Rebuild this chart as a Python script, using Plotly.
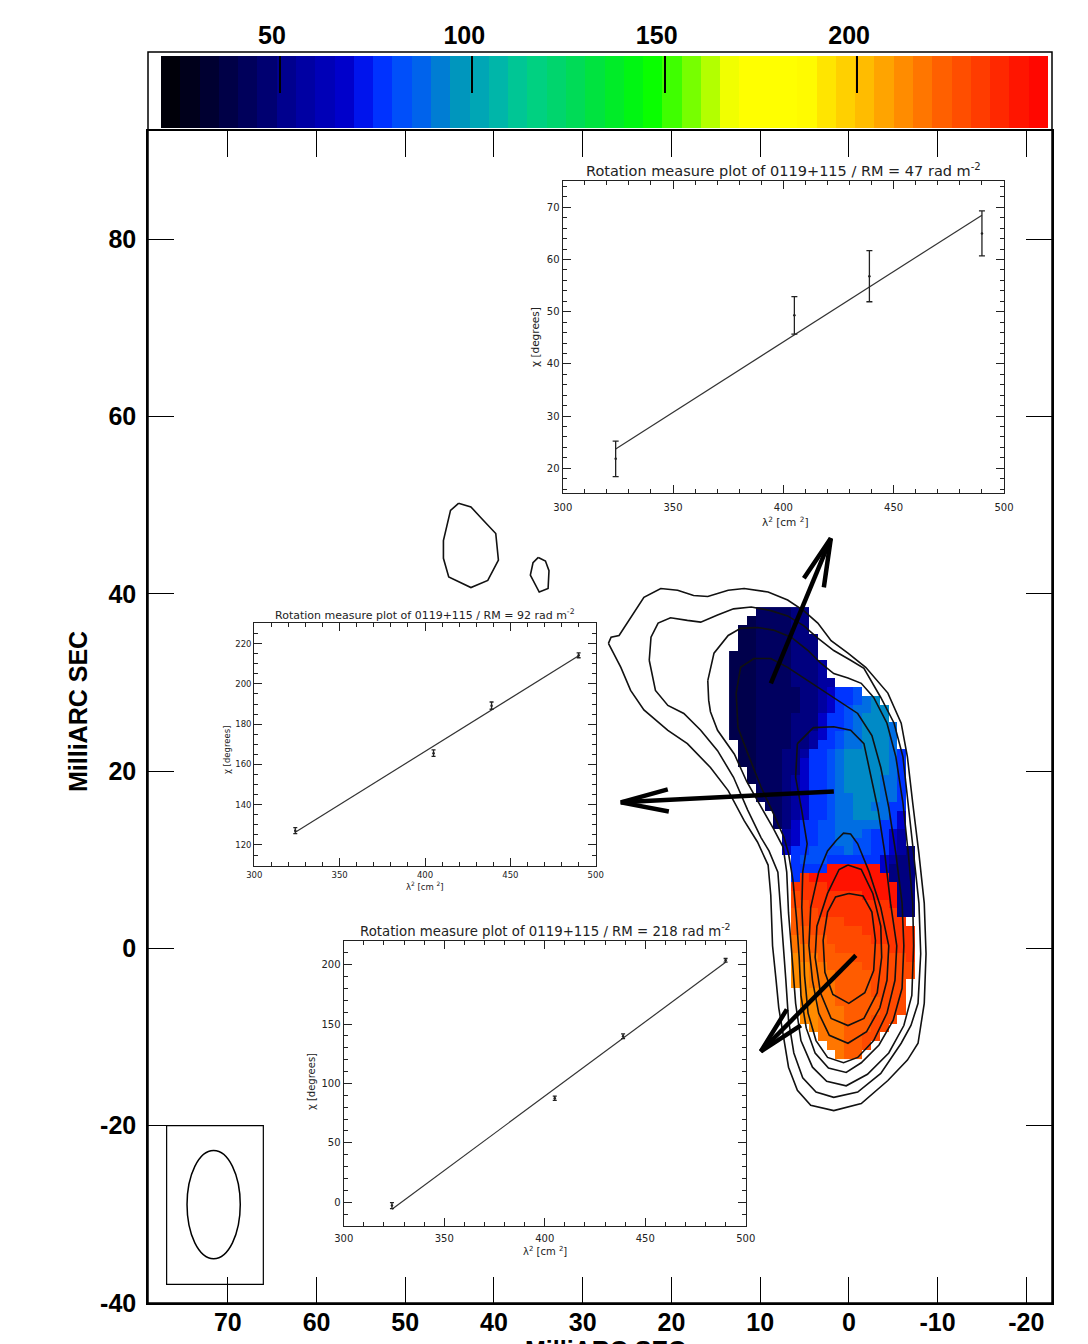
import numpy as np
import plotly.graph_objects as go

FIG_W, FIG_H = 1088, 1344
PAGE_OFFSET = 8  # the html page body margin shifts the figure by this many pixels


def pxx(p):
    return (p - PAGE_OFFSET) / FIG_W


def pxy(p):
    return 1 - (p - PAGE_OFFSET) / FIG_H


# ======================= DATA =======================
# main map (milliarcsec)
MAP_X_RANGE = [79.0, -22.9]
MAP_Y_RANGE = [-40.0, 92.2]
map_xticks = [70, 60, 50, 40, 30, 20, 10, 0, -10, -20]
map_xlabels = ["70", "60", "50", "40", "30", "20", "10", "0", "-10", "-20"]
map_yticks = [80, 60, 40, 20, 0, -20, -40]
map_ylabels = ["80", "60", "40", "20", "0", "-20", "-40"]

# rotation-measure colour scale (rad m^-2)
RM_MIN, RM_MAX = 19.1, 249.6
colorbar_ticks = [50, 100, 150, 200]
rm_colour_stops = [
    (19.1, "#000000"), (26, "#000018"), (35, "#000040"), (45, "#000068"),
    (52, "#000090"), (60, "#0000b0"), (68, "#0000d0"), (74, "#0020ff"),
    (80, "#0048ff"), (88, "#0068e8"), (95, "#0090c0"), (105, "#00b0b0"),
    (115, "#00d088"), (125, "#00d860"), (135, "#00e830"), (146, "#00ff00"),
    (155, "#60ff00"), (163, "#c0ff00"), (168, "#ffff00"), (186, "#ffff00"),
    (195, "#ffd800"), (203, "#ffb800"), (212, "#ff8c00"), (222, "#ff6000"),
    (232, "#ff3c00"), (241, "#ff1800"), (249.6, "#ff0000"),
]

# RM pixel map: one character per 1-mas pixel, '.' = blank
rm_code_values = {
    "K": 38, "N": 43, "n": 49, "m": 56, "b": 66, "B": 77, "C": 82, "c": 89,
    "t": 94, "R": 243, "r": 234, "o": 228, "O": 223, "a": 217, "A": 212,
}
rm_x = [13, 12, 11, 10, 9, 8, 7, 6, 5, 4, 3, 2, 1, 0, -1, -2, -3, -4, -5, -6, -7, -8]
rm_y = [38, 37, 36, 35, 34, 33, 32, 31, 30, 29, 28, 27, 26, 25, 24, 23, 22, 21,
        20, 19, 18, 17, 16, 15, 14, 13, 12, 11, 10, 9, 8, 7, 6, 5, 4, 3, 2, 1, 0,
        -1, -2, -3, -4, -5, -6, -7, -8, -9, -10, -11, -12]
rm_rows = [
    "...NNNNnn.............",
    "..KNNNNnn.............",
    ".KKNNNNnn.............",
    ".KKNNNNnnn............",
    ".KKNNNNnnn............",
    "KKKNNNNnnn............",
    "KKKNNNNnnnm...........",
    "KKKNNNNnnnm...........",
    "KKKNNNNnnnmm..........",
    "KKKNNNNNnnmbBBC.......",
    "KKKNNNNNnnmbBBCct.....",
    "KKKNNNNNnnmbBCcctt....",
    "KKKNNNNnnnbBBCcttt....",
    "KKKNNNNnnnbBBCctttc...",
    "KKKNNNNnnmbBCcctttc...",
    ".KKNNNNnnmBBCcctttc...",
    ".KKNNNnnmBBCctttttcB..",
    ".KKNNNnnbBBCctttttcB..",
    "..KNNNnnbBBCctttttcB..",
    "..KNNNnmbBBCcttttccB..",
    "...NNNnmbBBCcttttccB..",
    "...NNNnmbBBCcctttccB..",
    "....NNnmbBBCccttccBB..",
    ".....NnmbBBCcctttcBb..",
    ".....NnbBBCCcccccBBb..",
    "......mbBBCCcccCBBbm..",
    "......mbBBCCccCCBBbm..",
    "......bBBCCCCcCCBBbmn.",
    ".......BCCCBBBBBBbmnn.",
    ".......BBBBRRRRRRbnnn.",
    ".......BrRRRRRRRRRnnn.",
    ".......rrrrRRRRRRRRnn.",
    ".......orrrrrrrRRRRnn.",
    ".......oorrrrrrrrrRnn.",
    ".......Ooorrrrrrrrrnn.",
    ".......Oooooorrrrrrr..",
    ".......OOoooooorrrrrr.",
    ".......aOOOooooorrrrr.",
    ".......aaOOOoooooorrr.",
    ".......AaaOOOOoooooor.",
    ".......AAaaOOOOoooooo.",
    ".......AAaaaOOOOooooo.",
    ".......AAaaaOOOOoooo..",
    "........AAaaOOOOoooo..",
    "........AAaaOOOOOooo..",
    "........AAaaaOOOOooo..",
    "........AAaaaOOOooo...",
    ".........AaaaOOOoo....",
    "..........aaaOOoo.....",
    "...........aaOOo......",
    "............aOO.......",
]

# total-intensity contours (mas)
contour_1 = [(27.1, 34.4), (26.8, 35.1), (25.9, 35.3), (24.6, 37.3), (23.1, 39.6), (21.2, 40.6),
             (19.3, 40.4), (17.5, 39.8), (15.9, 39.7), (13.6, 40.4), (11.8, 40.6), (9.1, 40.2),
             (6.9, 39.3), (5.1, 38.1), (3.5, 36.7), (2.0, 34.7), (0.1, 33.3), (-1.9, 31.7),
             (-4.4, 28.8), (-5.9, 25.4), (-6.6, 21.6), (-7.2, 16.4), (-7.9, 10.7), (-8.5, 5.1),
             (-8.7, -0.6), (-8.5, -6.2), (-7.8, -10.7), (-6.6, -12.6), (-4.4, -14.9), (-1.4, -17.5),
             (1.7, -18.3), (4.3, -17.7), (5.8, -16.0), (6.8, -13.4), (7.3, -10.4), (7.9, -6.7),
             (8.2, -3.6), (8.6, 0.3), (8.8, 6.0), (9.1, 9.4), (10.3, 12.0), (11.8, 14.4),
             (13.6, 17.8), (15.6, 20.4), (18.2, 23.1), (20.4, 24.6), (23.1, 26.9), (24.6, 29.1),
             (25.7, 31.7), (27.1, 34.4)]
contour_2 = [(22.5, 32.5), (22.3, 35.1), (21.5, 36.7), (20.1, 37.3), (18.2, 37.0), (16.7, 36.8),
             (14.8, 37.6), (13.0, 38.3), (11.0, 38.5), (8.8, 38.1), (6.9, 37.5), (5.1, 36.4),
             (3.5, 35.0), (1.7, 33.6), (-0.2, 32.5), (-1.7, 31.6), (-3.6, 28.3), (-5.1, 25.4),
             (-6.1, 21.6), (-6.7, 16.4), (-7.3, 10.7), (-7.9, 5.1), (-8.1, -0.6), (-7.8, -6.2),
             (-7.0, -8.7), (-5.9, -10.7), (-3.6, -14.1), (-1.0, -16.2), (1.7, -16.8), (3.7, -16.2),
             (5.2, -14.6), (6.2, -11.8), (6.8, -8.1), (7.1, -3.6), (7.4, 0.3), (7.7, 4.1),
             (8.0, 8.6), (9.0, 11.0), (9.9, 12.5), (11.4, 15.6), (13.0, 19.3), (14.8, 22.3),
             (16.7, 24.6), (18.6, 26.5), (20.4, 27.4), (21.8, 29.1), (22.5, 32.5)]
contour_3 = [(15.9, 30.2), (15.2, 33.3), (13.6, 35.3), (12.2, 36.1), (10.3, 36.2), (8.5, 35.9),
             (6.5, 35.1), (4.6, 33.6), (3.2, 32.2), (1.7, 31.0), (0.1, 30.5), (-1.4, 29.9),
             (-2.8, 28.3), (-4.3, 25.4), (-5.3, 21.6), (-6.1, 16.4), (-6.7, 10.7), (-7.2, 5.1),
             (-7.3, 0.3), (-7.1, -5.3), (-6.2, -8.7), (-4.5, -11.8), (-2.1, -14.2), (0.3, -15.5),
             (2.5, -15.0), (4.1, -13.4), (5.4, -10.4), (6.0, -6.2), (6.4, -1.0), (6.8, 4.0),
             (7.0, 8.6), (7.4, 11.4), (8.5, 13.5), (9.9, 15.9), (11.5, 18.8), (12.9, 21.9),
             (14.8, 24.6), (15.6, 26.7), (15.8, 28.0), (15.9, 30.2)]
contour_4 = [(12.7, 28.8), (12.2, 31.7), (10.7, 32.7), (8.8, 32.7), (6.9, 31.7), (4.6, 30.2),
             (2.4, 28.8), (0.9, 27.8), (-1.0, 26.5), (-2.6, 24.0), (-3.6, 20.4), (-4.5, 15.9),
             (-5.3, 10.7), (-6.0, 5.1), (-6.2, 0.3), (-6.0, -4.5), (-5.0, -8.1), (-3.4, -10.9),
             (-1.4, -12.9), (0.3, -14.0), (2.3, -13.5), (3.8, -11.8), (4.8, -9.0), (5.4, -5.3),
             (5.6, -1.0), (5.9, 3.4), (6.3, 7.7), (6.8, 10.7), (7.3, 12.5), (8.5, 15.2),
             (9.9, 18.2), (11.4, 22.0), (12.5, 24.9), (12.7, 28.8)]
contour_5 = [(5.8, 23.1), (4.0, 24.9), (1.7, 25.0), (-0.2, 24.6), (-1.7, 23.1), (-2.5, 19.3),
             (-3.3, 15.6), (-4.0, 11.1), (-4.7, 5.1), (-5.4, 0.3), (-5.2, -3.6), (-4.3, -7.3),
             (-2.8, -10.4), (-1.0, -12.3), (0.6, -12.9), (2.4, -12.3), (3.7, -10.4), (4.6, -7.3),
             (5.0, -3.0), (5.1, 0.3), (5.3, 4.6), (5.2, 8.6), (4.7, 11.8), (5.3, 15.5),
             (6.0, 19.3), (5.8, 23.1)]
contour_6 = [(1.4, 12.2), (0.6, 13.0), (-0.2, 12.9), (-1.0, 11.8), (-2.3, 8.6), (-3.6, 4.6),
             (-4.5, 0.3), (-4.3, -3.6), (-3.5, -6.7), (-2.0, -9.4), (0.1, -10.7), (2.2, -9.8),
             (3.4, -7.3), (4.1, -3.6), (4.5, 0.3), (4.3, 4.6), (3.4, 8.6), (2.4, 11.0), (1.4, 12.2)]
contour_7 = [(0.1, 9.4), (-1.4, 8.9), (-2.7, 6.2), (-3.6, 2.5), (-3.7, -1.0), (-3.2, -5.0),
             (-1.7, -7.9), (0.1, -8.7), (2.0, -7.9), (3.2, -5.0), (3.8, -1.0), (3.6, 2.5),
             (2.4, 6.2), (1.1, 8.9), (0.1, 9.4)]
contour_8 = [(0.0, 6.2), (-1.6, 5.9), (-2.6, 4.1), (-3.0, 0.9), (-2.8, -2.5), (-1.8, -5.0),
             (0.0, -6.2), (1.8, -5.2), (2.7, -2.7), (2.9, 0.9), (2.4, 4.1), (1.5, 5.8), (0.0, 6.2)]
island_1 = [(44.0, 50.2), (42.6, 49.8), (41.5, 48.6), (39.8, 46.8), (39.5, 43.8), (40.7, 41.5),
            (42.6, 40.7), (45.1, 41.9), (45.7, 44.0), (45.7, 46.0), (44.9, 49.4), (44.0, 50.2)]
island_2 = [(35.0, 44.1), (34.2, 43.7), (33.8, 42.6), (33.9, 40.6), (34.9, 40.2), (35.9, 42.1),
            (35.6, 43.5), (35.0, 44.1)]
contours = [contour_1, contour_2, contour_3, contour_4, contour_5, contour_6, contour_7,
            contour_8, island_1, island_2]

# EVPA arrows: tail, head, barb 1, barb 2 (mas)
evpa_arrows = [
    [(8.79, 29.89), (2.03, 46.25), (5.07, 41.74), (2.82, 40.72)],
    [(1.69, 17.71), (25.70, 16.47), (20.41, 17.94), (20.29, 15.45)],
    [(-0.79, -0.79), (9.92, -11.62), (6.99, -6.88), (5.41, -8.69)],
]

# restoring beam
beam = dict(x=71.6, y=-28.9, half_x=3.0, half_y=6.1)
beam_box = dict(x0=76.9, x1=66.0, y0=-37.9, y1=-20.0)

# RM fits (lambda^2 in cm^2, chi in degrees)
lambda2 = [324, 405, 439, 490]
chi_47 = [21.8, 49.3, 56.8, 65.0]
err_47 = [3.4, 3.6, 4.9, 4.3]
fit_47_x = [324, 490]
fit_47_y = [23.7, 68.5]
chi_92 = [127.1, 165.6, 189.2, 214.2]
err_92 = [1.5, 1.6, 1.8, 1.2]
fit_92_x = [324, 490]
fit_92_y = [126.3, 214.0]
chi_218 = [-2.8, 87.5, 139.7, 203.7]
err_218 = [2.5, 1.8, 2.0, 1.5]
fit_218_x = [324, 490]
fit_218_y = [-5.9, 202.0]

# ======================= FIGURE =======================
colorscale = [[(v - RM_MIN) / (RM_MAX - RM_MIN), c] for v, c in rm_colour_stops]
rm_z = [[rm_code_values.get(ch) for ch in row.ljust(len(rm_x), ".")[:len(rm_x)]] for row in rm_rows]

fig = go.Figure()

# RM pixel map
fig.add_trace(go.Heatmap(x=rm_x, y=rm_y, z=rm_z, colorscale=colorscale, zmin=RM_MIN, zmax=RM_MAX,
                         showscale=False, hoverinfo="skip", xaxis="x", yaxis="y"))

# contours
for c in contours:
    fig.add_trace(go.Scatter(x=[p[0] for p in c], y=[p[1] for p in c], mode="lines",
                             line=dict(color="#111111", width=1.6), hoverinfo="skip",
                             xaxis="x", yaxis="y"))

# EVPA arrows
for tail, head, b1, b2 in evpa_arrows:
    fig.add_trace(go.Scatter(x=[tail[0], head[0], None, b1[0], head[0], b2[0]],
                             y=[tail[1], head[1], None, b1[1], head[1], b2[1]],
                             mode="lines", line=dict(color="black", width=4.5),
                             hoverinfo="skip", xaxis="x", yaxis="y"))

# colour bar (drawn as a strip of the colour scale)
n_bands = 46
band_edges = np.linspace(RM_MIN, RM_MAX, n_bands + 1)
band_centres = 0.5 * (band_edges[:-1] + band_edges[1:])
fig.add_trace(go.Heatmap(x=band_centres, y=[0], z=[band_centres], colorscale=colorscale,
                         zmin=RM_MIN, zmax=RM_MAX, showscale=False, hoverinfo="skip",
                         xaxis="x5", yaxis="y5"))

# insets
insets = [
    dict(ax="2", chi=chi_47, err=err_47, fx=fit_47_x, fy=fit_47_y, cap=3),
    dict(ax="3", chi=chi_92, err=err_92, fx=fit_92_x, fy=fit_92_y, cap=2),
    dict(ax="4", chi=chi_218, err=err_218, fx=fit_218_x, fy=fit_218_y, cap=2),
]
for ins in insets:
    fig.add_trace(go.Scatter(x=ins["fx"], y=ins["fy"], mode="lines",
                             line=dict(color="#333333", width=1.2), hoverinfo="skip",
                             xaxis="x" + ins["ax"], yaxis="y" + ins["ax"]))
    fig.add_trace(go.Scatter(x=lambda2, y=ins["chi"], mode="markers",
                             marker=dict(color="#222222", size=2.5),
                             error_y=dict(type="data", array=ins["err"], visible=True,
                                          color="#222222", thickness=1.3, width=ins["cap"]),
                             hoverinfo="skip", xaxis="x" + ins["ax"], yaxis="y" + ins["ax"]))

main_font = dict(family="Liberation Sans, Arial, sans-serif", size=25, color="black", weight="bold")
small_font = "DejaVu Sans, sans-serif"

layout = dict(
    width=FIG_W, height=FIG_H, margin=dict(l=0, r=0, t=0, b=0, pad=0, autoexpand=False),
    paper_bgcolor="white", plot_bgcolor="white", showlegend=False,
    xaxis=dict(domain=[pxx(148), pxx(1052)], range=MAP_X_RANGE, tickvals=map_xticks,
               ticktext=map_xlabels,
               ticks="inside", ticklen=26, tickwidth=1.2, tickcolor="black",
               showline=True, linecolor="black", linewidth=1.5, mirror="allticks",
               showgrid=False, zeroline=False, tickfont=main_font, ticklabelstandoff=-4,
               automargin=False, anchor="y"),
    yaxis=dict(domain=[pxy(1303), pxy(131)], range=MAP_Y_RANGE, tickvals=map_yticks,
               ticktext=map_ylabels,
               ticks="inside", ticklen=26, tickwidth=1.2, tickcolor="black",
               showline=True, linecolor="black", linewidth=1.5, mirror="allticks",
               showgrid=False, zeroline=False, tickfont=main_font, ticklabelstandoff=5,
               automargin=False, anchor="x"),
    xaxis5=dict(domain=[pxx(161), pxx(1048)], range=[RM_MIN, RM_MAX], tickvals=colorbar_ticks,
                side="top", ticks="inside", ticklen=37, tickwidth=1.5, tickcolor="black",
                showline=False, showgrid=False, zeroline=False, tickfont=main_font,
                ticklabelstandoff=6, ticklabelshift=-8, automargin=False, anchor="y5"),
    yaxis5=dict(domain=[pxy(128), pxy(56)], range=[-0.5, 0.5], visible=False,
                automargin=False, anchor="x5", fixedrange=True),
)

inset_specs = [
    # axis id, x domain px, y domain px, y range, y major, y minor, tick font size, x-label standoff
    ("2", (562.7, 1004.0), (493.3, 180.7), [15.2, 75.1], 10, 2, 10, 5),
    ("3", (254.3, 595.7), (865.7, 623.3), [109.7, 230.1], 20, 5, 8.5, 1),
    ("4", (343.7, 745.7), (1226.0, 940.7), [-20.0, 220.2], 50, 10, 10, 3),
]
for ax, xd, yd, yr, ymaj, ymin, fs, xstand in inset_specs:
    tf = dict(family=small_font, size=fs, color="#222222")
    layout["xaxis" + ax] = dict(domain=[pxx(xd[0]), pxx(xd[1])], range=[300, 500],
                                tick0=300, dtick=50, ticks="inside", ticklen=8, tickwidth=1,
                                tickcolor="#222222",
                                minor=dict(dtick=10, tick0=300, ticks="inside", ticklen=4,
                                           tickcolor="#222222", showgrid=False),
                                showline=True, linecolor="#222222", linewidth=1.2,
                                mirror="allticks", showgrid=False, zeroline=False,
                                tickfont=tf, ticklabelstandoff=xstand,
                                automargin=False, anchor="y" + ax)
    layout["yaxis" + ax] = dict(domain=[pxy(yd[0]), pxy(yd[1])], range=yr,
                                tick0=0, dtick=ymaj, ticks="inside", ticklen=8, tickwidth=1,
                                tickcolor="#222222",
                                minor=dict(dtick=ymin, tick0=0, ticks="inside", ticklen=4,
                                           tickcolor="#222222", showgrid=False),
                                showline=True, linecolor="#222222", linewidth=1.2,
                                mirror="allticks", showgrid=False, zeroline=False,
                                tickfont=tf, automargin=False, anchor="x" + ax)

fig.update_layout(**layout)

# frame around colour-bar + map
fig.add_shape(type="rect", xref="paper", yref="paper", x0=pxx(148), x1=pxx(1052),
              y0=pxy(1303), y1=pxy(52), line=dict(color="black", width=1.5), layer="above")

# beam
fig.add_shape(type="rect", xref="x", yref="y", x0=beam_box["x0"], x1=beam_box["x1"],
              y0=beam_box["y0"], y1=beam_box["y1"], line=dict(color="black", width=1.2))
fig.add_shape(type="circle", xref="x", yref="y",
              x0=beam["x"] - beam["half_x"], x1=beam["x"] + beam["half_x"],
              y0=beam["y"] - beam["half_y"], y1=beam["y"] + beam["half_y"],
              line=dict(color="black", width=1.5))

title_font = dict(family="Liberation Sans, Arial, sans-serif", size=25, color="black", weight="bold")
fig.add_annotation(text="MilliARC SEC", xref="paper", yref="paper", x=pxx(78), y=pxy(712),
                   xanchor="center", yanchor="middle", textangle=-90, showarrow=False,
                   font=title_font)
fig.add_annotation(text="MilliARC SEC", xref="paper", yref="paper", x=pxx(605), y=pxy(1334),
                   xanchor="center", yanchor="top", showarrow=False, font=title_font)

# inset labels
inset_text = [
    # RM text, title centre px, title size, x-label centre, y-label centre, label size
    ("47", (783, 170), 14.5, (785, 521), (535, 337), 10.5),
    ("92", (425, 614), 11, (425, 886), (227, 750), 8.5),
    ("218", (545, 930), 13.3, (545, 1251), (311, 1082), 10),
]
for rm, tpos, tsize, xpos, ypos, lsize in inset_text:
    fig.add_annotation(text="Rotation measure plot of 0119+115 / RM = " + rm + " rad m<sup>-2</sup>",
                       xref="paper", yref="paper", x=pxx(tpos[0]), y=pxy(tpos[1]),
                       xanchor="center", yanchor="middle", showarrow=False,
                       font=dict(family=small_font, size=tsize, color="#222222"))
    fig.add_annotation(text="λ<sup>2</sup> [cm <sup>2</sup>]", xref="paper", yref="paper",
                       x=pxx(xpos[0]), y=pxy(xpos[1]), xanchor="center", yanchor="middle",
                       showarrow=False, font=dict(family=small_font, size=lsize, color="#222222"))
    fig.add_annotation(text="χ [degrees]", xref="paper", yref="paper", x=pxx(ypos[0]),
                       y=pxy(ypos[1]), xanchor="center", yanchor="middle", textangle=-90,
                       showarrow=False, font=dict(family=small_font, size=lsize, color="#222222"))

fig.write_html("out.html")
